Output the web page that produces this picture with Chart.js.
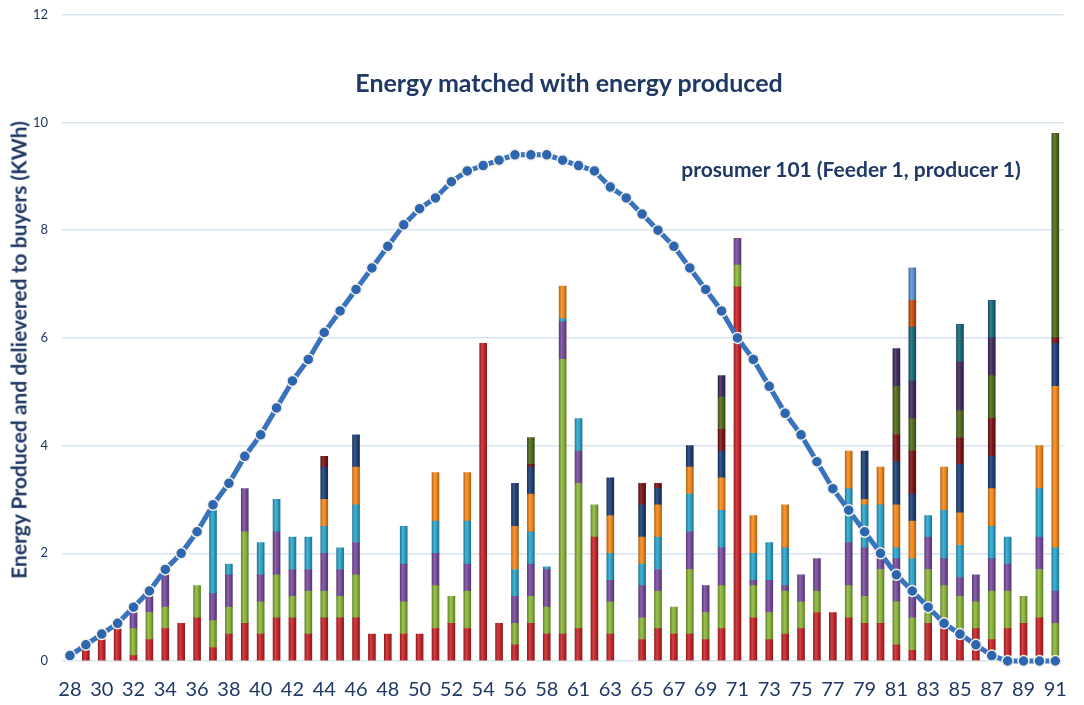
<!DOCTYPE html>
<html>
<head>
<meta charset="utf-8">
<script src="https://cdn.jsdelivr.net/npm/chart.js@4.4.0/dist/chart.umd.min.js"></script>
<style>
  html, body { margin: 0; padding: 0; background: #fff; overflow: hidden; }
  #wrap { position: relative; width: 1084px; height: 705px; overflow: hidden; }
  #chart { position: absolute; left: 0; top: -7px; }
  .note { position: absolute; font-family: Lato, sans-serif; font-weight: bold; color: #1f3864; white-space: nowrap; transform: translate(-50%, -50%); line-height: 1; }
  #title { left: 569px; top: 82px; font-size: 25px; }
  #prosumer { left: 851px; top: 168px; font-size: 21px; }
  #ytitle { left: 18px; top: 350px; font-size: 21px; transform: translate(-50%, -50%) rotate(-90deg); }
</style>
</head>
<body>
<div id="wrap">
  <canvas id="chart" width="1084" height="712"></canvas>
  <div class="note" id="title">Energy matched with energy produced</div>
  <div class="note" id="prosumer">prosumer 101 (Feeder 1, producer 1)</div>
  <div class="note" id="ytitle">Energy Produced and delievered to buyers (KWh)</div>
</div>
<script>
// time slots on the x axis
const categories = ['28','29','30','31','32','33','34','35','36','37','38','39','40','41','42','43','44','45','46','47',
  '48','49','50','51','52','53','54','55','56','57','58','59','61','62','63','64','65','66','67','68',
  '69','70','71','72','73','74','75','76','77','78','79','80','81','82','83','84','85','86','87','88',
  '89','90','91'];

// energy produced by the prosumer (line)
const produced = [0.1,0.3,0.5,0.7,1.0,1.3,1.7,2.0,2.4,2.9,3.3,3.8,4.2,4.7,5.2,5.6,6.1,6.5,6.9,7.3,
  7.7,8.1,8.4,8.6,8.9,9.1,9.2,9.3,9.4,9.4,9.4,9.3,9.2,9.1,8.8,8.6,8.3,8.0,7.7,7.3,
  6.9,6.5,6.0,5.6,5.1,4.6,4.2,3.7,3.2,2.8,2.4,2.0,1.6,1.3,1.0,0.7,0.5,0.3,0.1,0,
  0,0,0];

// energy delivered to each buyer (stacked bars)
const buyer1 = [0,0.2,0.4,0.6,0.1,0.4,0.6,0.7,0.8,0.25,
  0.5,0.7,0.5,0.8,0.8,0.5,0.8,0.8,0.8,0.5,
  0.5,0.5,0.5,0.6,0.7,0.6,5.9,0.7,0.3,0.7,
  0.5,0.5,0.6,2.3,0.5,0,0.4,0.6,0.5,0.5,
  0.4,0.6,6.95,0.8,0.4,0.5,0.6,0.9,0.9,0.8,
  0.7,0.7,0.3,0.2,0.7,0.6,0.55,0.6,0.4,0.6,
  0.7,0.8,0];
const buyer2 = [0,0,0,0,0.5,0.5,0.4,0,0.6,0.5,
  0.5,1.7,0.6,0.8,0.4,0.8,0.5,0.4,0.8,0,
  0,0.6,0,0.8,0.5,0.7,0,0,0.4,0.5,
  0.5,5.1,2.7,0.6,0.6,0,0.4,0.7,0.5,1.2,
  0.5,0.8,0.4,0.6,0.5,0.8,0.5,0.4,0,0.6,
  0.5,1.0,0.8,0.6,1.0,0.8,0.65,0.5,0.9,0.7,
  0.5,0.9,0.7];
const buyer3 = [0,0,0,0,0.3,0.3,0.6,0,0,0.5,
  0.6,0.8,0.5,0.8,0.5,0.4,0.7,0.5,0.6,0,
  0,0.7,0,0.6,0,0.5,0,0,0.5,0.6,
  0.7,0.7,0.6,0,0.4,0,0.6,0.4,0,0.7,
  0.5,0.7,0.5,0.1,0.6,0.1,0.5,0.6,0,0.8,
  0.9,0.4,0.8,0.5,0.6,0.5,0.35,0.5,0.6,0.5,
  0,0.6,0.6];
const buyer4 = [0,0,0,0,0,0,0,0,0,1.55,
  0.2,0,0.6,0.6,0.6,0.6,0.5,0.4,0.7,0,
  0,0.7,0,0.6,0,0.8,0,0,0.5,0.6,
  0.05,0.06,0.6,0,0.5,0,0.4,0.6,0,0.7,
  0,0.7,0,0.5,0.7,0.7,0,0,0,1.0,
  0.8,0.8,0.2,0.6,0.4,0.9,0.6,0,0.6,0.5,
  0,0.9,0.8];
const buyer5 = [0,0,0,0,0,0,0,0,0,0,
  0,0,0,0,0,0,0.5,0,0.7,0,
  0,0,0,0.9,0,0.9,0,0,0.8,0.7,
  0,0.6,0,0,0.7,0,0.5,0.6,0,0.5,
  0,0.6,0,0.7,0,0.8,0,0,0,0.7,
  0.1,0.7,0.8,0.7,0,0.8,0.6,0,0.7,0,
  0,0.8,3.0];
const buyer6 = [0,0,0,0,0,0,0,0,0,0,
  0,0,0,0,0,0,0.6,0,0.6,0,
  0,0,0,0,0,0,0,0,0.8,0.5,
  0,0,0,0,0.7,0,0.6,0.3,0,0.4,
  0,0.5,0,0,0,0,0,0,0,0,
  0.9,0,0.8,0.5,0,0,0.9,0,0.6,0,
  0,0,0.8];
const buyer7 = [0,0,0,0,0,0,0,0,0,0,
  0,0,0,0,0,0,0.2,0,0,0,
  0,0,0,0,0,0,0,0,0,0.05,
  0,0,0,0,0,0,0.4,0.1,0,0,
  0,0.4,0,0,0,0,0,0,0,0,
  0,0,0.5,0.8,0,0,0.5,0,0.7,0,
  0,0,0.1];
const buyer8 = [0,0,0,0,0,0,0,0,0,0,
  0,0,0,0,0,0,0,0,0,0,
  0,0,0,0,0,0,0,0,0,0.5,
  0,0,0,0,0,0,0,0,0,0,
  0,0.6,0,0,0,0,0,0,0,0,
  0,0,0.9,0.6,0,0,0.5,0,0.8,0,
  0,0,3.8];
const buyer9 = [0,0,0,0,0,0,0,0,0,0,
  0,0,0,0,0,0,0,0,0,0,
  0,0,0,0,0,0,0,0,0,0,
  0,0,0,0,0,0,0,0,0,0,
  0,0.4,0,0,0,0,0,0,0,0,
  0,0,0.7,0.7,0,0,0.9,0,0.7,0,
  0,0,0];
const buyer10 = [0,0,0,0,0,0,0,0,0,0,
  0,0,0,0,0,0,0,0,0,0,
  0,0,0,0,0,0,0,0,0,0,
  0,0,0,0,0,0,0,0,0,0,
  0,0,0,0,0,0,0,0,0,0,
  0,0,0,1.0,0,0,0.7,0,0.7,0,
  0,0,0];
const buyer11 = [0,0,0,0,0,0,0,0,0,0,
  0,0,0,0,0,0,0,0,0,0,
  0,0,0,0,0,0,0,0,0,0,
  0,0,0,0,0,0,0,0,0,0,
  0,0,0,0,0,0,0,0,0,0,
  0,0,0,0.5,0,0,0,0,0,0,
  0,0,0];
const buyer12 = [0,0,0,0,0,0,0,0,0,0,
  0,0,0,0,0,0,0,0,0,0,
  0,0,0,0,0,0,0,0,0,0,
  0,0,0,0,0,0,0,0,0,0,
  0,0,0,0,0,0,0,0,0,0,
  0,0,0,0.6,0,0,0,0,0,0,
  0,0,0];

const yTicks = [0, 2, 4, 6, 8, 10, 12];

const buyers = [buyer1, buyer2, buyer3, buyer4, buyer5, buyer6, buyer7, buyer8, buyer9, buyer10, buyer11, buyer12];
const buyerColors = ['#c8282c','#8cb63c','#7a4e9e','#2ea6cc','#f58a1e','#1f4278',
  '#7c1719','#516d20','#432d61','#1d6a7e','#c9520f','#5e93d4'];
const navy = '#1f3864';

function shade(hex, f) {
  const n = parseInt(hex.slice(1), 16);
  let r = n >> 16, g = (n >> 8) & 255, b = n & 255;
  if (f < 0) { r *= 1 + f; g *= 1 + f; b *= 1 + f; }
  else { r += (255 - r) * f; g += (255 - g) * f; b += (255 - b) * f; }
  return `rgb(${Math.round(r)},${Math.round(g)},${Math.round(b)})`;
}

// cylinder-like fill for each bar, like the Excel bars
function barFill(base) {
  return ctx => {
    const chart = ctx.chart;
    if (ctx.type !== 'data' || !chart.chartArea) return base;
    const x = chart.scales.x.getPixelForValue(ctx.dataIndex);
    const g = chart.ctx.createLinearGradient(x - 3.5, 0, x + 3.5, 0);
    g.addColorStop(0, shade(base, -0.25));
    g.addColorStop(0.35, shade(base, 0.12));
    g.addColorStop(0.6, base);
    g.addColorStop(1, shade(base, -0.3));
    return g;
  };
}

const datasets = [{
  type: 'line',
  label: 'Energy produced',
  data: produced,
  stack: 'line',
  order: 0,
  borderColor: '#3a73bd',
  borderWidth: 5,
  pointRadius: 5.5,
  pointBackgroundColor: '#2c65b0',
  pointBorderColor: '#f3f1e4',
  pointBorderWidth: 1.5,
  tension: 0,
  clip: false
}];
buyers.forEach((vals, i) => {
  datasets.push({
    type: 'bar',
    label: 'Buyer ' + (i + 1),
    data: vals.map(v => v === 0 ? null : v),
    stack: 'bars',
    order: 1,
    backgroundColor: barFill(buyerColors[i]),
    borderWidth: 0,
    barThickness: 7
  });
});

new Chart(document.getElementById('chart'), {
  data: { labels: categories, datasets: datasets },
  options: {
    responsive: false,
    animation: false,
    layout: { padding: { top: 0, right: 8, bottom: 0, left: 0 } },
    plugins: { legend: { display: false }, tooltip: { enabled: false } },
    scales: {
      x: {
        stacked: true,
        afterFit: s => { s.height = 44; },
        grid: { display: false, drawTicks: false },
        border: { display: false },
        ticks: {
          autoSkip: false,
          maxRotation: 0,
          padding: 17,
          color: navy,
          font: { family: 'Lato', size: 20 },
          callback: (v, i) => i % 2 === 0 ? categories[i] : ''
        }
      },
      y: {
        stacked: true,
        min: 0,
        max: 12,
        afterFit: s => { s.width = 62; },
        afterBuildTicks: s => { s.ticks = yTicks.map(v => ({ value: v })); },
        grid: { color: '#d8e4f3', lineWidth: 1.5, drawTicks: false },
        border: { display: false },
        ticks: { padding: 14, color: navy, font: { family: 'Lato', size: 13 } }
      }
    }
  }
});
</script>
</body>
</html>
